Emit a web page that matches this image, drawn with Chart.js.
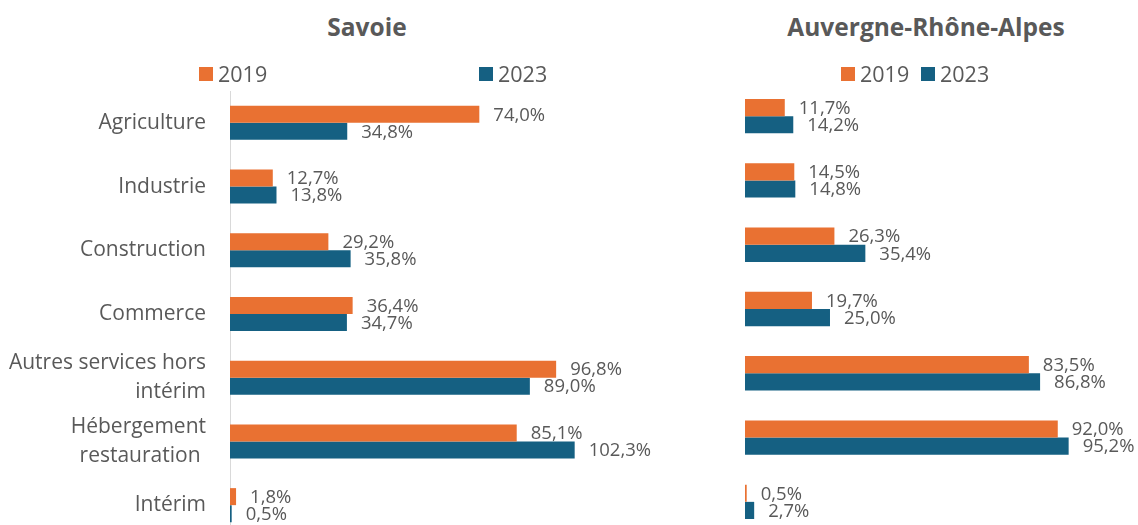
<!DOCTYPE html>
<html lang="fr">
<head>
<meta charset="UTF-8">
<title>Savoie / Auvergne-Rhône-Alpes</title>
<script src="https://cdn.jsdelivr.net/npm/chart.js"></script>
<style>
    body {
        margin: 0;
        width: 1138px;
        height: 525px;
        overflow: hidden;
        background: #fff;
        font-family: "Open Sans", sans-serif;
        color: #595959;
        position: relative;
    }
    .title {
        position: absolute;
        top: 10px;
        font-weight: bold;
        font-size: 24.5px;
        transform: translateX(-50%);
        white-space: nowrap;
    }
    .legend-item {
        position: absolute;
        top: 59px;
        font-size: 21.5px;
        display: flex;
        align-items: center;
        white-space: nowrap;
    }
    .legend-item .box {
        display: inline-block;
        width: 14px;
        height: 14px;
        margin-right: 5px;
    }
    .chart {
        position: absolute;
        top: 0;
    }
</style>
</head>
<body>

<div class="title" style="left:367px">Savoie</div>
<div class="title" style="left:926px">Auvergne-Rhône-Alpes</div>

<div class="chart" style="left:0; width:668px; height:537px"><canvas id="savoieChart"></canvas></div>
<div class="chart" style="left:700px; width:438px; height:534px"><canvas id="araChart"></canvas></div>

<script>
    const categories = [
        ['Agriculture'],
        ['Industrie'],
        ['Construction'],
        ['Commerce'],
        ['Autres services hors', 'intérim'],
        ['Hébergement', 'restauration '],
        ['Intérim']
    ];
    const seriesNames = ['2019', '2023'];

    // Savoie
    const savoie2019 = [74.0, 12.7, 29.2, 36.4, 96.8, 85.1, 1.8];
    const savoie2023 = [34.8, 13.8, 35.8, 34.7, 89.0, 102.3, 0.5];

    // Auvergne-Rhône-Alpes
    const ara2019 = [11.7, 14.5, 26.3, 19.7, 83.5, 92.0, 0.5];
    const ara2023 = [14.2, 14.8, 35.4, 25.0, 86.8, 95.2, 2.7];

    const colors = ['#E97132', '#156082'];
    const textColor = '#595959';

    // legends as plain html, one set above each chart
    function addLegend(xs) {
        seriesNames.forEach((name, i) => {
            const el = document.createElement('div');
            el.className = 'legend-item';
            el.style.left = xs[i] + 'px';
            el.innerHTML = '<span class="box" style="background:' + colors[i] + '"></span>' + name;
            document.body.appendChild(el);
        });
    }
    addLegend([199, 479]);
    addLegend([841, 921]);

    // value labels at the end of each bar
    const valueLabels = {
        id: 'valueLabels',
        afterDatasetsDraw(chart) {
            const ctx = chart.ctx;
            ctx.save();
            ctx.font = '18.5px "Open Sans"';
            ctx.fillStyle = textColor;
            ctx.textAlign = 'left';
            ctx.textBaseline = 'middle';
            chart.data.datasets.forEach((ds, i) => {
                chart.getDatasetMeta(i).data.forEach((bar, j) => {
                    const txt = ds.data[j].toFixed(1).replace('.', ',') + '%';
                    ctx.fillText(txt, bar.x + 14, bar.y + 1);
                });
            });
            ctx.restore();
        }
    };

    function makeChart(id, values, opts) {
        return new Chart(document.getElementById(id), {
            type: 'bar',
            data: {
                labels: categories,
                datasets: values.map((v, i) => ({
                    label: seriesNames[i],
                    data: v,
                    backgroundColor: colors[i],
                    barPercentage: 1,
                    categoryPercentage: 0.534
                }))
            },
            options: {
                indexAxis: 'y',
                responsive: true,
                maintainAspectRatio: false,
                animation: false,
                layout: { padding: { top: opts.top, right: 0, bottom: 0, left: 0 } },
                scales: {
                    x: { display: false, min: 0, max: opts.max },
                    y: {
                        afterFit: (s) => {
                            s.width = opts.axisWidth;
                            // labels sit inside their bands, no extra room above/below
                            s.paddingTop = 0;
                            s.paddingBottom = 0;
                        },
                        grid: { display: false, drawTicks: false },
                        border: { display: opts.showAxis, color: '#d9d9d9', width: 1 },
                        ticks: {
                            display: opts.showAxis,
                            color: textColor,
                            padding: 24,
                            font: { family: 'Open Sans', size: 21, lineHeight: 1.4 }
                        }
                    }
                },
                plugins: {
                    legend: { display: false },
                    tooltip: { enabled: false }
                }
            },
            plugins: [valueLabels]
        });
    }

    makeChart('savoieChart', [savoie2019, savoie2023], { top: 91, max: 130, axisWidth: 230, showAxis: true });
    makeChart('araChart', [ara2019, ara2023], { top: 84, max: 115.6, axisWidth: 45, showAxis: false });
</script>

</body>
</html>
